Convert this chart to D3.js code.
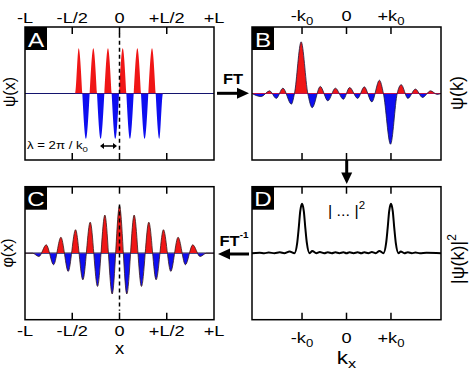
<!DOCTYPE html>
<meta charset="utf-8">
<style>
  body { margin: 0; background: #fff; }
  svg { display: block; }
  text { font-family: "Liberation Sans", Arial, sans-serif; fill: #000; }
</style>
<body>
<div id="chart"></div>
<script src="https://d3js.org/d3.v7.min.js"></script>
<script>

var width = 474,
    height = 374;

// tick values and labels
var xTickVals = [-1, -0.5, 0, 0.5, 1];
var xTickLabels = ["-L", "-L/2", "0", "+L/2", "+L"];
var kTickVals = [-1, 0, 1];
var kTickLabels = ["-k", "0", "+k"];   // "0" subscript added to the k ones

// A: psi(x), truncated wave (start, extrema, end)
var psiX = [-1, -0.471, -0.432, -0.355, -0.277, -0.199, -0.122, -0.044,
            0.034, 0.111, 0.189, 0.266, 0.344, 0.422, 0.460, 1];
var psiY = [0, 0, 1.02, -1.02, 1.02, -1.02, 1.02, -1.02,
            1.02, -1.02, 1.02, -1.02, 1.02, -1.02, 0, 0];

// B: psi(k)
var psiKx = [-2.125, -1.92, -1.73, -1.58, -1.43, -1.24, -1.17, -1.02, -0.87, -0.77, -0.59, -0.42, -0.25, -0.07,
             0.07, 0.25, 0.40, 0.57, 0.74, 0.83, 0.99, 1.14, 1.23, 1.38, 1.55, 1.71, 1.89, 2.04, 2.125];
var psiKy = [0, -0.07, 0.06, -0.11, 0.12, -0.24, 0, 1.165, 0, -0.32, 0.16, -0.165, 0.12, -0.13,
             0.135, -0.11, 0.15, -0.19, 0.30, 0, -1.145, 0, 0.20, -0.11, 0.10, -0.09, 0.06, -0.02, 0];

// C: phi(x)
var phiX = [-1, -0.92, -0.8525, -0.775, -0.6975, -0.62, -0.5425, -0.465, -0.3875, -0.31, -0.2325, -0.155, -0.0775,
            0, 0.0775, 0.155, 0.2325, 0.31, 0.3875, 0.465, 0.5425, 0.62, 0.6975, 0.775, 0.8525, 0.92, 1];
var phiY = [0, 0, -0.075, 0.19, -0.26, 0.36, -0.41, 0.53, -0.60, 0.70, -0.75, 0.86, -0.92,
            1.07, -0.92, 0.86, -0.75, 0.70, -0.60, 0.53, -0.41, 0.36, -0.26, 0.19, -0.075, 0, 0];

// D: |psi(k)|^2
var powX = [-2.125, -1.95, -1.85, -1.75, -1.62, -1.5, -1.4, -1.28, -1.17, -1.11, -1.075, -1.04, -1.0, -0.96, -0.925,
            -0.89, -0.83, -0.77, -0.68, -0.6, -0.5, -0.42, -0.33, -0.25, -0.16, -0.07, 0, 0.07, 0.16, 0.25, 0.33,
            0.4, 0.49, 0.57, 0.66, 0.74, 0.83, 0.89, 0.925, 0.96, 1.0, 1.04, 1.075, 1.11, 1.17, 1.22, 1.3, 1.38,
            1.47, 1.55, 1.65, 1.8, 2.125];
var powY = [0, 0.01, 0, 0.015, 0, 0.02, 0, 0.04, 0, 0.22, 0.56, 0.95, 1.115, 0.95, 0.56,
            0.22, 0, 0.05, 0, 0.025, 0, 0.02, 0, 0.02, 0, 0.02, 0, 0.02, 0, 0.02, 0,
            0.02, 0, 0.025, 0, 0.05, 0, 0.22, 0.56, 0.95, 1.115, 0.95, 0.56, 0.22, 0, 0.04, 0, 0.02,
            0, 0.015, 0, 0.01, 0];

var red = "#f01616", blue = "#0e0ef0";
var boxW = 189, boxH = 133;

var svg = d3.select("#chart").append("svg")
  .attr("width", width)
  .attr("height", height);

var xL = d3.scaleLinear().domain([-1, 1]).range([0, boxW]);
var xK = d3.scaleLinear().domain([-2.125, 2.125]).range([0, boxW]);
var y = d3.scaleLinear().domain([-1.5, 1.5]).range([boxH, 0]);

function zip(xs, ys) {
  return xs.map(function(x, i) { return {x: x, y: ys[i]}; });
}

// text stretched sideways like the original lettering
function label(parent, x, y0, txt, size, sx, anchor) {
  return parent.append("text")
    .attr("transform", "translate(" + x + "," + y0 + ") scale(" + sx + ",1)")
    .attr("font-size", size)
    .attr("text-anchor", anchor || "middle")
    .text(txt);
}

function panel(id, px, py) {
  var g = svg.append("g").attr("transform", "translate(" + px + "," + py + ")");
  g.append("clipPath").attr("id", "up" + id)
    .append("rect").attr("x", 0).attr("y", 0).attr("width", boxW).attr("height", y(0));
  g.append("clipPath").attr("id", "dn" + id)
    .append("rect").attr("x", 0).attr("y", y(0)).attr("width", boxW).attr("height", boxH - y(0));
  return g;
}

function frame(g, id, xScale, ticks) {
  g.append("rect")
    .attr("width", boxW).attr("height", boxH)
    .attr("fill", "none").attr("stroke", "#000").attr("stroke-width", 1.5);
  ticks.forEach(function(t) {
    if (Math.abs(t) === 1 && xScale === xL) return;
    g.append("line").attr("x1", xScale(t)).attr("x2", xScale(t)).attr("y1", 0).attr("y2", 7)
      .attr("stroke", "#000").attr("stroke-width", 1.5);
    g.append("line").attr("x1", xScale(t)).attr("x2", xScale(t)).attr("y1", boxH - 7).attr("y2", boxH)
      .attr("stroke", "#000").attr("stroke-width", 1.5);
  });
  g.append("rect").attr("width", 22).attr("height", 23).attr("fill", "#000");
  label(g, 11, 19.5, id, 21, 1.15).style("fill", "#fff");
}

function wave(g, id, data, xScale, zeroColor, outline) {
  var area = d3.area()
    .x(function(d) { return xScale(d.x); })
    .y0(y(0))
    .y1(function(d) { return y(d.y); })
    .curve(d3.curveMonotoneX);
  g.append("line").attr("x1", 0).attr("x2", boxW).attr("y1", y(0)).attr("y2", y(0))
    .attr("stroke", zeroColor).attr("stroke-width", 1.2);
  g.append("path").datum(data).attr("d", area).attr("fill", red).attr("clip-path", "url(#up" + id + ")");
  g.append("path").datum(data).attr("d", area).attr("fill", blue).attr("clip-path", "url(#dn" + id + ")");
  if (outline) {
    var line = d3.line()
      .x(function(d) { return xScale(d.x); })
      .y(function(d) { return y(d.y); })
      .curve(d3.curveMonotoneX);
    g.append("path").datum(data).attr("d", line)
      .attr("fill", "none").attr("stroke", outline).attr("stroke-width", 0.8);
  }
}

function dashed(g, y1, y2) {
  g.append("line").attr("x1", xL(0)).attr("x2", xL(0)).attr("y1", y(y1)).attr("y2", y(y2))
    .attr("stroke", "#000").attr("stroke-width", 1.5).attr("stroke-dasharray", "4,3");
}

function kLabel(g, x, y0, txt, size) {
  var t = label(g, x, y0, null, size, 1.3);
  t.append("tspan").text(txt);
  if (txt !== "0") t.append("tspan").attr("font-size", size * 0.72).attr("dy", 4).text("0");
  return t;
}

// ---- A ----
var gA = panel("A", 25, 27);
wave(gA, "A", zip(psiX, psiY), xL, "#14146e", null);
dashed(gA, 1.35, -1.28);
frame(gA, "A", xL, xTickVals);
xTickVals.forEach(function(v, i) { label(gA, xL(v), -4, xTickLabels[i], 14, 1.3); });
var lam = label(gA, 2, 121.5, "λ = 2π / k", 11, 1.2, "start");
lam.append("tspan").attr("font-size", 8).attr("dy", 3).text("0");
gA.append("path").attr("d", "M77,119H90").attr("stroke", "#000").attr("stroke-width", 1.5);
gA.append("path").attr("d", "M75,119l4,-3v6zM92,119l-4,-3v6z").attr("fill", "#000");
svg.append("text").attr("transform", "translate(14.5,92) rotate(-90)")
  .attr("font-size", 16).attr("text-anchor", "middle").text("ψ(x)");

// ---- B ----
var gB = panel("B", 252, 27);
wave(gB, "B", zip(psiKx, psiKy), xK, red, "#1a1a40");
frame(gB, "B", xK, kTickVals);
kTickVals.forEach(function(v, i) { kLabel(gB, xK(v), -6, kTickLabels[i], 14); });
svg.append("text").attr("transform", "translate(463,93) rotate(-90)")
  .attr("font-size", 18).attr("text-anchor", "middle").text("ψ(k)");

// ---- C ----
var gC = panel("C", 25, 186.7);
wave(gC, "C", zip(phiX, phiY), xL, "#222244", "#3a1a1a");
dashed(gC, 1.1, -1.3);
frame(gC, "C", xL, xTickVals);
xTickVals.forEach(function(v, i) { label(gC, xL(v), 149.5, xTickLabels[i], 14, 1.3); });
label(gC, xL(0), 167.5, "x", 16, 1.15);
svg.append("text").attr("transform", "translate(13,253) rotate(-90)")
  .attr("font-size", 16).attr("text-anchor", "middle").text("φ(x)");

// ---- D ----
var gD = panel("D", 252, 186.7);
var pLine = d3.line()
  .x(function(d) { return xK(d.x); })
  .y(function(d) { return y(d.y); })
  .curve(d3.curveMonotoneX);
gD.append("path").datum(zip(powX, powY)).attr("d", pLine)
  .attr("fill", "none").attr("stroke", "#000").attr("stroke-width", 2);
frame(gD, "D", xK, kTickVals);
kTickVals.forEach(function(v, i) { kLabel(gD, xK(v), 156.5, kTickLabels[i], 14); });
var kx = label(gD, xK(0), 177, "k", 18, 1.25);
kx.append("tspan").attr("font-size", 13).attr("dy", 4).text("x");
var mod = label(gD, xK(0), 29, "| ... |", 14, 1.15);
mod.append("tspan").attr("font-size", 10).attr("dy", -7).text("2");
var modR = svg.append("text").attr("transform", "translate(464,259) rotate(-90)")
  .attr("font-size", 18).attr("text-anchor", "middle").text("|ψ(k)|");
modR.append("tspan").attr("font-size", 12).attr("dy", -8).text("2");

// ---- arrows between panels ----
svg.append("path").attr("d", "M217,93.3H240").attr("stroke", "#000").attr("stroke-width", 3);
svg.append("path").attr("d", "M237,87.8L249,93.3L237,98.8Z").attr("fill", "#000");
label(svg, 233, 83.5, "FT", 15, 1.1).attr("font-weight", "bold");

svg.append("path").attr("d", "M346.7,160V175").attr("stroke", "#000").attr("stroke-width", 3);
svg.append("path").attr("d", "M341.2,172.5L346.7,184L352.2,172.5Z").attr("fill", "#000");

svg.append("path").attr("d", "M249,254H227").attr("stroke", "#000").attr("stroke-width", 3);
svg.append("path").attr("d", "M230,248.5L218,254L230,259.5Z").attr("fill", "#000");
var fti = label(svg, 234, 246, "FT", 15, 1.1).attr("font-weight", "bold");
fti.append("tspan").attr("font-size", 9).attr("dy", -8).text("-1");

</script>
</body>
